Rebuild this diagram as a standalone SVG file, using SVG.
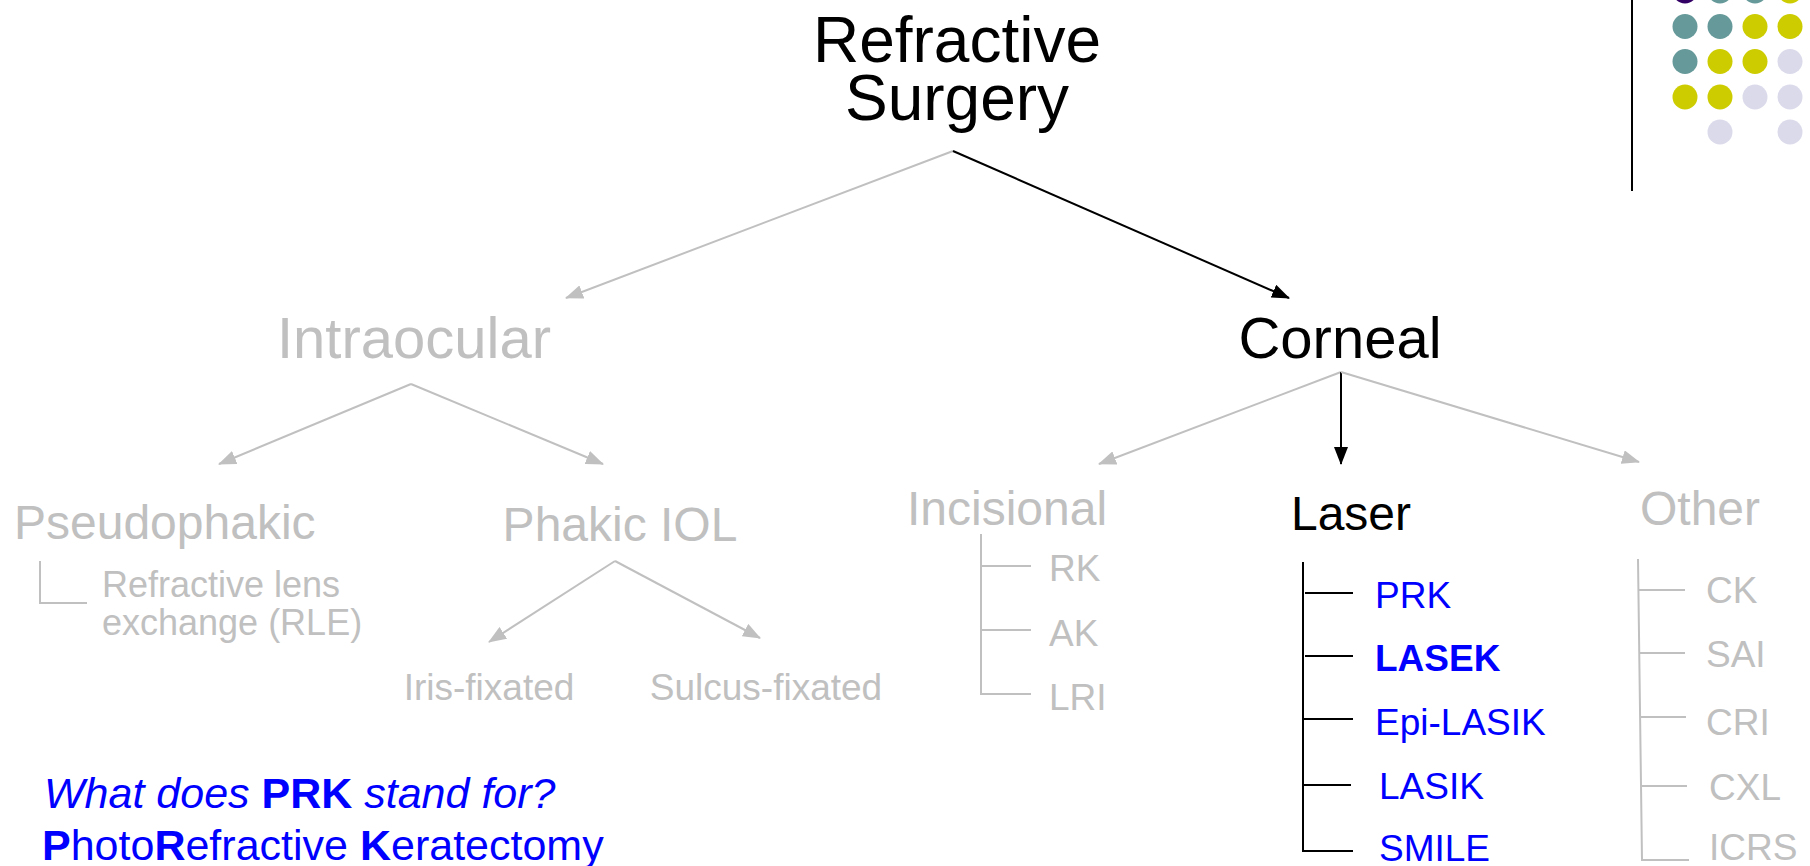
<svg xmlns="http://www.w3.org/2000/svg" width="1810" height="866" viewBox="0 0 1810 866">
<style>
text{font-family:"Liberation Sans",Arial,sans-serif}
.blk{fill:#000}
.gry{fill:#c0c0c0}
.blu{fill:#0000ff}
.l1{font-size:64px}
.l2{font-size:58px}
.l3{font-size:48px}
.l4{font-size:37px}
.cg{stroke:#c0c0c0;stroke-width:2;fill:none}
.cb{stroke:#000;stroke-width:2;fill:none}
.b{font-weight:bold}
.it{font-style:italic}
</style>
<defs>
<marker id="ag" markerUnits="userSpaceOnUse" markerWidth="18" markerHeight="14" refX="17" refY="7" orient="auto"><path d="M0,0 L18,7 L0,14 z" fill="#c0c0c0"/></marker>
<marker id="ab" markerUnits="userSpaceOnUse" markerWidth="18" markerHeight="14" refX="17" refY="7" orient="auto"><path d="M0,0 L18,7 L0,14 z" fill="#000"/></marker>
</defs>
<rect width="1810" height="866" fill="#fff"/>
<g id="decor">
<line x1="1632" y1="0" x2="1632" y2="191" stroke="#000" stroke-width="2"/>
<circle cx="1685" cy="-9" r="12.5" fill="#330066"/>
<circle cx="1720" cy="-9" r="12.5" fill="#669999"/>
<circle cx="1755" cy="-9" r="12.5" fill="#669999"/>
<circle cx="1790" cy="-9" r="12.5" fill="#cccc00"/>
<circle cx="1685" cy="26.5" r="12.5" fill="#669999"/>
<circle cx="1720" cy="26.5" r="12.5" fill="#669999"/>
<circle cx="1755" cy="26.5" r="12.5" fill="#cccc00"/>
<circle cx="1790" cy="26.5" r="12.5" fill="#cccc00"/>
<circle cx="1685" cy="61.5" r="12.5" fill="#669999"/>
<circle cx="1720" cy="61.5" r="12.5" fill="#cccc00"/>
<circle cx="1755" cy="61.5" r="12.5" fill="#cccc00"/>
<circle cx="1790" cy="61.5" r="12.5" fill="#dadaeb"/>
<circle cx="1685" cy="97" r="12.5" fill="#cccc00"/>
<circle cx="1720" cy="97" r="12.5" fill="#cccc00"/>
<circle cx="1755" cy="97" r="12.5" fill="#dadaeb"/>
<circle cx="1790" cy="97" r="12.5" fill="#dadaeb"/>
<circle cx="1720" cy="132" r="12.5" fill="#dadaeb"/>
<circle cx="1790" cy="132" r="12.5" fill="#dadaeb"/>
</g>
<g id="connectors">
<line class="cg" x1="953" y1="151" x2="566" y2="298" marker-end="url(#ag)"/>
<line class="cb" x1="953" y1="151" x2="1289" y2="298" marker-end="url(#ab)"/>
<line class="cg" x1="411" y1="384" x2="219" y2="464" marker-end="url(#ag)"/>
<line class="cg" x1="411" y1="384" x2="603" y2="464" marker-end="url(#ag)"/>
<polyline class="cg" points="40,561 40,603 87,603"/>
<line class="cg" x1="615" y1="561" x2="489" y2="642" marker-end="url(#ag)"/>
<line class="cg" x1="615" y1="561" x2="760" y2="638" marker-end="url(#ag)"/>
<line class="cg" x1="1341" y1="372" x2="1099" y2="464" marker-end="url(#ag)"/>
<line class="cb" x1="1341" y1="372" x2="1341" y2="464" marker-end="url(#ab)"/>
<line class="cg" x1="1341" y1="372" x2="1639" y2="462" marker-end="url(#ag)"/>
<polyline class="cg" points="981,534 981,694 1031,694"/>
<line class="cg" x1="981" y1="566" x2="1031" y2="566"/>
<line class="cg" x1="981" y1="630" x2="1031" y2="630"/>
<polyline class="cb" points="1303,562 1303,851 1353,851"/>
<line class="cb" x1="1305" y1="593" x2="1353" y2="593"/>
<line class="cb" x1="1305" y1="656" x2="1353" y2="656"/>
<line class="cb" x1="1303" y1="719" x2="1353" y2="719"/>
<line class="cb" x1="1303" y1="785" x2="1351" y2="785"/>
<polyline class="cg" points="1638,559 1642,860 1689,860"/>
<line class="cg" x1="1638" y1="590" x2="1685" y2="590"/>
<line class="cg" x1="1639" y1="653" x2="1685" y2="653"/>
<line class="cg" x1="1640" y1="717" x2="1686" y2="717"/>
<line class="cg" x1="1641" y1="786" x2="1687" y2="786"/>
</g>
<g id="root"><text class="l1 blk" text-anchor="middle"><tspan x="957" y="62">Refractive</tspan><tspan x="957" y="120">Surgery</tspan></text></g>
<g id="intraocular"><text class="l2 gry" x="414" y="358" text-anchor="middle">Intraocular</text></g>
<g id="corneal"><text class="l2 blk" x="1340" y="358" text-anchor="middle">Corneal</text></g>
<g id="pseudophakic"><text class="l3 gry" x="14" y="539">Pseudophakic</text></g>
<g id="rle"><text class="gry" style="font-size:36px"><tspan x="102" y="597">Refractive lens</tspan><tspan x="102" y="635">exchange (RLE)</tspan></text></g>
<g id="phakic"><text class="l3 gry" x="620" y="541" text-anchor="middle">Phakic IOL</text></g>
<g id="iris"><text class="l4 gry" x="489" y="700" text-anchor="middle">Iris-fixated</text></g>
<g id="sulcus"><text class="l4 gry" x="766" y="700" text-anchor="middle">Sulcus-fixated</text></g>
<g id="incisional"><text class="l3 gry" x="1007" y="525" text-anchor="middle">Incisional</text></g>
<g id="rk"><text class="l4 gry" x="1049" y="581">RK</text></g>
<g id="ak"><text class="l4 gry" x="1049" y="646">AK</text></g>
<g id="lri"><text class="l4 gry" x="1049" y="710">LRI</text></g>
<g id="laser"><text class="l3 blk" x="1351" y="530" text-anchor="middle">Laser</text></g>
<g id="prk"><text class="l4 blu" x="1375" y="608">PRK</text></g>
<g id="lasek"><text class="l4 blu b" x="1375" y="671">LASEK</text></g>
<g id="epilasik"><text class="l4 blu" x="1375" y="735">Epi-LASIK</text></g>
<g id="lasik"><text class="l4 blu" x="1379" y="799">LASIK</text></g>
<g id="smile"><text class="l4 blu" x="1379" y="861">SMILE</text></g>
<g id="other"><text class="l3 gry" x="1700" y="525" text-anchor="middle">Other</text></g>
<g id="ck"><text class="l4 gry" x="1706" y="603">CK</text></g>
<g id="sai"><text class="l4 gry" x="1706" y="667">SAI</text></g>
<g id="cri"><text class="l4 gry" x="1706" y="735">CRI</text></g>
<g id="cxl"><text class="l4 gry" x="1709" y="800">CXL</text></g>
<g id="icrs"><text class="l4 gry" x="1709" y="860">ICRS</text></g>
<g id="question"><text class="blu" style="font-size:43px" x="44" y="808"><tspan class="it">What does </tspan><tspan class="b">PRK</tspan><tspan class="it"> stand for?</tspan></text>
<text class="blu" style="font-size:43px" x="42" y="860"><tspan class="b">P</tspan>hoto<tspan class="b">R</tspan>efractive <tspan class="b">K</tspan>eratectomy</text></g>
</svg>
